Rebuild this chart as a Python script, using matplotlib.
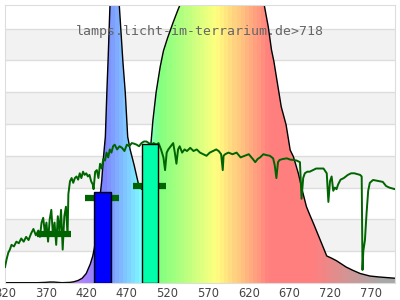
import matplotlib
matplotlib.use("Agg")
import matplotlib.pyplot as plt
from matplotlib.patches import Polygon
import numpy as np

# lamp spectrum (outline), arbitrary units, 1 unit = one grid band
spec_nm = [320, 340, 360, 370, 375, 380, 385, 390, 400, 405,
           410, 415, 420, 425, 428, 430, 433, 436, 439, 441,
           443.5, 445.5, 447, 449, 452, 455, 458, 460, 463, 465,
           468, 471, 474, 479, 484, 488, 492, 496, 499, 502,
           506, 511, 515, 520, 527, 533, 538, 545, 555, 570,
           590, 610, 625, 635, 639, 644, 648, 651, 656, 660,
           666, 671, 675, 681, 686, 691, 695, 700, 704, 708,
           712, 716, 722, 728, 734, 740, 748, 757, 763, 769,
           780, 790, 800]
spec_val = [0.01, 0.01, 0.01, 0.02, 0.03, 0.03, 0.02, 0.01, 0.02, 0.04,
            0.08, 0.15, 0.3, 0.6, 0.85, 1.1, 1.7, 2.5, 3.2, 3.9,
            4.6, 6.1, 7.1, 8.6, 10.3, 11.4, 10.3, 9.0, 7.8, 7.0,
            6.0, 4.6, 4.2, 3.7, 3.14, 2.95, 3.0, 3.5, 4.2, 5.1,
            6.0, 6.8, 7.3, 7.7, 8.2, 8.6, 8.9, 9.4, 9.9, 10.3,
            10.5, 10.3, 9.8, 9.2, 8.75, 8.06, 7.33, 6.96, 6.17, 5.54,
            4.97, 4.18, 3.97, 3.45, 2.9, 2.4, 2.15, 1.85, 1.6, 1.35,
            1.1, 0.85, 0.78, 0.7, 0.6, 0.5, 0.4, 0.3, 0.26, 0.22,
            0.19, 0.17, 0.15]

# green measured curve
green_nm = [320, 322, 324, 326, 328, 331, 334, 337, 340, 343,
            346, 349, 352, 355, 358, 361, 363, 365, 367, 369,
            371, 373, 375, 377, 379, 381, 383, 385, 387, 389,
            391, 393, 395, 397, 398, 400, 402, 404, 406, 408,
            410, 412, 414, 416, 418, 420, 422, 424, 426, 428,
            429, 431, 433, 435, 437, 439, 441, 443, 445, 447,
            449, 451, 453, 455, 458, 461, 464, 467, 470, 473,
            476, 479, 482, 485, 488, 491, 494, 497, 500, 503,
            506, 509, 512, 515, 517, 519, 521, 524, 527, 529,
            531, 533, 535, 538, 541, 544, 548, 552, 556, 560,
            564, 568, 572, 576, 580, 583, 586, 588, 589, 591,
            595, 600, 605, 610, 615, 620, 625, 628, 631, 634,
            638, 642, 646, 650, 652, 654, 656, 658, 662, 667,
            671, 675, 679, 683, 684, 685, 687, 689, 692, 695,
            699, 703, 707, 712, 716, 717, 718, 720, 722, 724,
            726, 728, 730, 733, 737, 742, 746, 750, 754, 757,
            759, 760, 761, 763, 765, 767, 769, 773, 777, 781,
            785, 789, 793, 797, 800]
green_val = [0.5, 0.75, 0.95, 1.05, 1.2, 1.15, 1.3, 1.25, 1.4, 1.3,
             1.45, 1.35, 1.55, 1.7, 1.5, 1.65, 1.45, 1.9, 2.05, 1.6,
             1.9, 1.3, 2.0, 2.3, 1.5, 1.9, 1.2, 2.1, 1.6, 2.3,
             1.05, 2.1, 2.4, 1.5, 2.8, 3.2, 3.3, 3.15, 3.3, 3.35,
             3.25, 3.45, 3.3, 3.5, 3.4, 3.45, 3.35, 3.4, 3.2, 3.1,
             2.95, 3.5, 3.55, 3.3, 3.75, 3.6, 3.9, 3.85, 4.1, 3.95,
             4.2, 4.1, 4.3, 4.35, 4.2, 4.3, 4.25, 4.15, 4.35, 4.3,
             4.4, 4.38, 4.35, 4.3, 4.4, 4.45, 4.45, 4.4, 4.35, 4.4,
             4.35, 4.4, 4.2, 3.95, 3.55, 4.1, 4.2, 4.3, 4.4, 4.1,
             3.75, 4.2, 4.3, 4.1, 4.2, 4.15, 4.25, 4.15, 4.2, 4.1,
             4.05, 4.0, 4.1, 4.15, 4.2, 4.15, 4.05, 3.55, 4.0, 4.05,
             4.1, 4.05, 4.1, 3.95, 4.0, 4.05, 3.9, 3.8, 3.9, 3.95,
             4.05, 4.02, 4.0, 3.92, 3.7, 3.3, 3.8, 3.87, 3.9, 3.92,
             3.88, 3.87, 3.85, 3.8, 3.2, 2.65, 3.3, 3.45, 3.5, 3.5,
             3.55, 3.6, 3.6, 3.6, 3.45, 3.0, 2.55, 3.2, 3.35, 2.9,
             3.0, 2.95, 3.1, 3.25, 3.3, 3.4, 3.45, 3.45, 3.42, 3.4,
             3.35, 0.41, 1.0, 1.35, 2.2, 2.9, 3.15, 3.24, 3.22, 3.2,
             3.18, 3.05, 3.0, 2.97, 2.95]

# average markers: (start nm, end nm, level)
mark_start = [359, 418.5, 477.5]
mark_end = [401, 460, 518]
mark_level = [1.53, 2.67, 3.05]

# LED bars
bar_left = [430, 488.6]
bar_width = [20, 19.4]
bar_height = [2.86, 4.37]
bar_color = ['#0000ff', '#00ffaa']

xticks = [320, 370, 420, 470, 520, 570, 620, 670, 720, 770]
title = "lamps.licht-im-terrarium.de>718"


def wl_color(w):
    """pastel colour for a wavelength"""
    if w < 380:
        r, g, b = 0.5, 0.0, 0.5
    elif w < 440:
        r, g, b = -(w - 440) / 60.0, 0.0, 1.0
    elif w < 490:
        r, g, b = 0.0, (w - 440) / 50.0, 1.0
    elif w < 510:
        r, g, b = 0.0, 1.0, -(w - 510) / 20.0
    elif w < 580:
        r, g, b = (w - 510) / 70.0, 1.0, 0.0
    elif w < 645:
        r, g, b = 1.0, -(w - 645) / 65.0, 0.0
    else:
        r, g, b = 1.0, 0.0, 0.0
    c = np.array([0.5 + 0.5 * r, 0.5 + 0.5 * g, 0.5 + 0.5 * b])
    if w > 700:
        f = max(0.0, 1 - (w - 700) / 82.0)
        c = f * c + (1 - f) * np.array([0.66, 0.66, 0.66])
    return c


fig = plt.figure(figsize=(4, 3), dpi=100)
ax = fig.add_axes([5 / 400, 17 / 300, 390 / 400, 278 / 300])
ymax = 278 / 31.8

# bands
for k in range(1, 8, 2):
    ax.axhspan(k, k + 1, color='#f2f2f2', zorder=0, lw=0)
for k in range(1, 9):
    ax.axhline(k, color='#dddddd', lw=1, zorder=0.5)

# spectrum with rainbow fill
starts = np.arange(320, 800, 5)
img = np.array([[wl_color(w + 2.5) for w in starts]])
im = ax.imshow(img, extent=[320, 800, 0, 13], aspect='auto',
               interpolation='nearest', zorder=1)
verts = list(zip(spec_nm, spec_val)) + [(800, 0), (320, 0)]
poly = Polygon(verts, facecolor='none', edgecolor='none', transform=ax.transData)
ax.add_patch(poly)
im.set_clip_path(poly)
ax.plot(spec_nm, spec_val, color='black', lw=1.0, zorder=2)

# green curve
ax.plot(green_nm, green_val, color='#006400', lw=1.4, zorder=3)

# markers
ax.hlines(mark_level, mark_start, mark_end, color='#006400', lw=4.5, zorder=4)

# bars
ax.bar(bar_left, bar_height, width=bar_width, align='edge', color=bar_color,
       edgecolor='black', lw=1, zorder=5)

ax.text(0.5, 0.905, title, transform=ax.transAxes, ha='center', va='center',
        family='DejaVu Sans Mono', fontsize=9.5, color='#666666', zorder=6)

ax.set_xlim(320, 800)
ax.set_ylim(0, ymax)
ax.set_xticks(xticks)
ax.set_yticks([])
ax.tick_params(axis='x', length=0, pad=3, labelsize=8.3, labelcolor='#444444')
for s in ax.spines.values():
    s.set_color('#dddddd')

fig.savefig("out.png", dpi=100)
